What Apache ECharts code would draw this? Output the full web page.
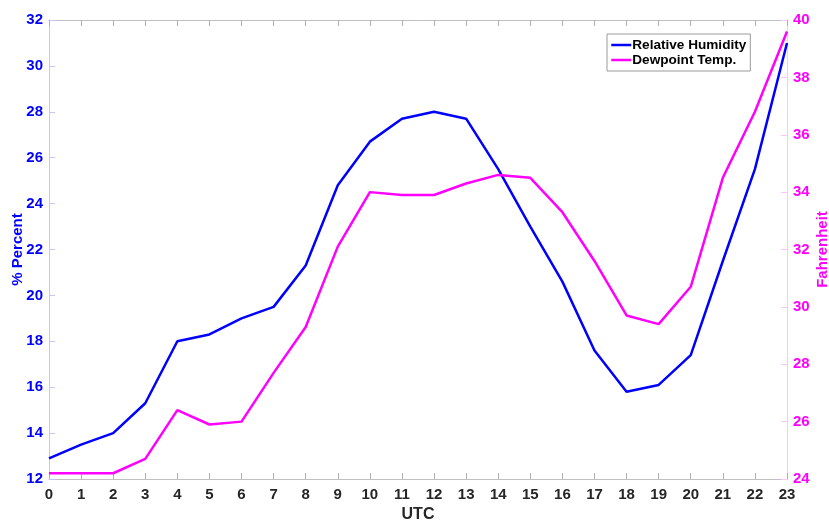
<!DOCTYPE html>
<html>
<head>
<meta charset="utf-8">
<script src="https://cdn.jsdelivr.net/npm/echarts@6/dist/echarts.min.js"></script>
<style>
html,body{margin:0;padding:0;background:#fff;}
#c{width:829px;height:523px;}
</style>
</head>
<body>
<div id="c"></div>
<script>
var hours = ['0','1','2','3','4','5','6','7','8','9','10','11','12','13','14','15','16','17','18','19','20','21','22','23'];
var relativeHumidity = [12.9,13.5,14.0,15.3,18.0,18.3,19.0,19.5,21.3,24.8,26.7,27.7,28.0,27.7,25.5,23.0,20.6,17.6,15.8,16.1,17.4,21.5,25.5,31.0];
var dewpointTemp = [24.2,24.2,24.2,24.7,26.4,25.9,26.0,27.7,29.3,32.1,34.0,33.9,33.9,34.3,34.6,34.5,33.3,31.6,29.7,29.4,30.7,34.5,36.8,39.6];
var seriesNames = ['Relative Humidity','Dewpoint Temp.'];

var FONT = '"Liberation Sans", Arial, Helvetica, sans-serif';
var chart = echarts.init(document.getElementById('c'), null, {renderer:'canvas'});
chart.setOption({
  animation:false,
  backgroundColor:'#ffffff',
  textStyle:{fontFamily:FONT},
  grid:{left:49,right:42,top:20,bottom:44,containLabel:false,outerBoundsMode:'none'},
  legend:{
    orient:'vertical', left:607, top:34,
    padding:[4,4,4,3], itemGap:1, itemWidth:20, itemHeight:14,
    borderColor:'#9a9a9a', borderWidth:1, backgroundColor:'#fff',
    itemStyle:{opacity:0},
    lineStyle:{width:2.5},
    textStyle:{fontFamily:FONT,fontWeight:'bold',fontSize:13.6,color:'#000',padding:[0,0,0,-4]},
    data:seriesNames
  },
  xAxis:[{
    type:'category', data:hours, boundaryGap:false,
    name:'UTC', nameLocation:'middle', nameGap:28, nameMoveOverlap:false,
    nameTextStyle:{fontFamily:FONT,fontWeight:'bold',fontSize:16,color:'#262626'},
    axisLine:{lineStyle:{color:'#c0c0c0',width:1}},
    axisTick:{inside:true,length:6,interval:0,lineStyle:{color:'#b0b0b0'}},
    axisLabel:{interval:0,margin:8,fontFamily:FONT,fontWeight:'bold',fontSize:15,color:'#262626'},
    splitLine:{show:false}
  },{
    type:'category', data:hours, boundaryGap:false, position:'top',
    axisLine:{lineStyle:{color:'#c0c0c0',width:1}},
    axisTick:{inside:true,length:6,interval:0,lineStyle:{color:'#b0b0b0'}},
    axisLabel:{show:false}, splitLine:{show:false}
  }],
  yAxis:[{
    type:'value', min:12, max:32, interval:2, position:'left',
    name:'% Percent', nameLocation:'middle', nameGap:24, nameRotate:90, nameMoveOverlap:false,
    nameTextStyle:{fontFamily:FONT,fontWeight:'bold',fontSize:15,color:'#0000ff'},
    axisLine:{show:true,lineStyle:{color:'#c4c4ff',width:1}},
    axisTick:{show:true,inside:true,length:6,lineStyle:{color:'#c4c4ff'}},
    axisLabel:{margin:6,fontFamily:FONT,fontWeight:'bold',fontSize:15,color:'#0000ff'},
    splitLine:{show:false}
  },{
    type:'value', min:24, max:40, interval:2, position:'right',
    name:'Fahrenheit', nameLocation:'middle', nameGap:28, nameRotate:90, nameMoveOverlap:false,
    nameTextStyle:{fontFamily:FONT,fontWeight:'bold',fontSize:15,color:'#ff00ff'},
    axisLine:{show:true,lineStyle:{color:'#ffc4ff',width:1}},
    axisTick:{show:true,inside:true,length:6,lineStyle:{color:'#ffc4ff'}},
    axisLabel:{margin:6,fontFamily:FONT,fontWeight:'bold',fontSize:15,color:'#ff00ff'},
    splitLine:{show:false}
  }],
  series:[{
    name:seriesNames[0], type:'line', data:relativeHumidity, yAxisIndex:0,
    symbol:'none', lineStyle:{color:'#0000ff',width:2.5}, itemStyle:{color:'#0000ff'}
  },{
    name:seriesNames[1], type:'line', data:dewpointTemp, yAxisIndex:1,
    symbol:'none', lineStyle:{color:'#ff00ff',width:2.5}, itemStyle:{color:'#ff00ff'}
  }]
});
</script>
</body>
</html>
